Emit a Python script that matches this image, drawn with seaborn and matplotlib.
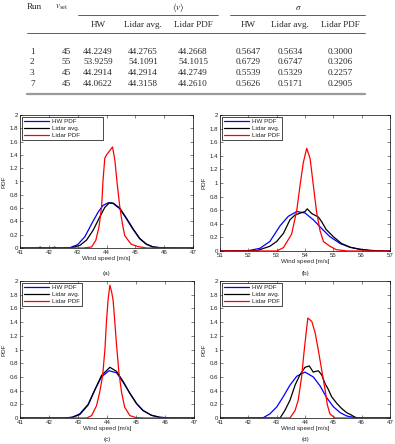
import pandas as pd
import matplotlib
matplotlib.use("Agg")
import matplotlib.pyplot as plt
import seaborn as sns
from matplotlib.lines import Line2D
from matplotlib.ticker import FuncFormatter, MultipleLocator

# table values
runs = ["1", "2", "3", "7"]
v_set = ["45", "55", "45", "45"]
mean_hw = ["44.2249", "53.9259", "44.2914", "44.0622"]
mean_avg = ["44.2765", "54.1091", "44.2914", "44.3158"]
mean_pdf = ["44.2668", "54.1015", "44.2749", "44.2610"]
sig_hw = ["0.5647", "0.6729", "0.5539", "0.5626"]
sig_avg = ["0.5634", "0.6747", "0.5329", "0.5171"]
sig_pdf = ["0.3000", "0.3206", "0.2257", "0.2905"]
sub_heads = ["HW", "Lidar avg.", "Lidar PDF", "HW", "Lidar avg.", "Lidar PDF"]

# panel (a)
a_hw_x = [41.0, 41.6, 41.7, 41.8, 42.1, 42.2, 42.3, 42.73, 43.0, 43.25, 43.48, 43.71, 43.88, 44.06, 44.23, 44.46, 44.69, 44.92, 45.15, 45.38, 45.61, 45.9, 46.5, 47.0]
a_hw_y = [0, 0, 0.01, 0, 0, 0.01, 0, 0.005, 0.05, 0.17, 0.36, 0.54, 0.64, 0.68, 0.67, 0.59, 0.44, 0.28, 0.14, 0.056, 0.015, 0.003, 0, 0]
a_avg_x = [41.0, 41.6, 41.7, 41.8, 42.1, 42.2, 42.3, 42.8, 43.08, 43.31, 43.54, 43.77, 43.94, 44.1, 44.23, 44.46, 44.69, 44.92, 45.15, 45.38, 45.61, 45.9, 46.5, 47.0]
a_avg_y = [0, 0, 0.01, 0, 0, 0.01, 0, 0.005, 0.04, 0.12, 0.27, 0.47, 0.61, 0.68, 0.675, 0.6, 0.45, 0.29, 0.145, 0.06, 0.017, 0.003, 0, 0]
a_pdf_x = [41.0, 43.2, 43.48, 43.63, 43.74, 43.83, 43.88, 43.94, 44.0, 44.21, 44.29, 44.37, 44.46, 44.55, 44.63, 44.75, 44.86, 45.1, 45.4, 47.0]
a_pdf_y = [0, 0, 0.015, 0.116, 0.32, 0.62, 1.02, 1.35, 1.40, 1.52, 1.32, 0.97, 0.62, 0.37, 0.19, 0.116, 0.056, 0.02, 0, 0]

# panel (b)
b_hw_x = [51.0, 52.0, 52.41, 52.76, 53.12, 53.41, 53.71, 54.0, 54.29, 54.59, 54.88, 55.24, 55.59, 55.94, 56.3, 56.7, 57.0]
b_hw_y = [0, 0.005, 0.04, 0.14, 0.37, 0.51, 0.58, 0.56, 0.46, 0.33, 0.21, 0.11, 0.055, 0.025, 0.008, 0.002, 0]
b_avg_x = [51.0, 52.3, 52.76, 53.0, 53.24, 53.47, 53.65, 53.85, 54.0, 54.08, 54.24, 54.47, 54.59, 54.74, 55.0, 55.29, 55.59, 55.94, 56.3, 56.7, 57.0]
b_avg_y = [0, 0.005, 0.07, 0.14, 0.26, 0.46, 0.53, 0.56, 0.58, 0.62, 0.55, 0.50, 0.43, 0.32, 0.21, 0.11, 0.055, 0.025, 0.008, 0.002, 0]
b_pdf_x = [51.0, 53.0, 53.24, 53.53, 53.71, 53.82, 53.94, 54.06, 54.18, 54.29, 54.41, 54.53, 54.65, 54.88, 55.1, 55.5, 57.0]
b_pdf_y = [0, 0, 0.05, 0.25, 0.6, 0.95, 1.3, 1.51, 1.36, 0.98, 0.57, 0.3, 0.14, 0.07, 0.02, 0, 0]

# panel (c)
c_hw_x = [41.0, 42.5, 42.8, 43.06, 43.35, 43.58, 43.81, 44.07, 44.33, 44.56, 44.79, 45.02, 45.24, 45.53, 45.82, 46.2, 47.0]
c_hw_y = [0, 0, 0.01, 0.06, 0.2, 0.41, 0.6, 0.69, 0.66, 0.52, 0.36, 0.21, 0.11, 0.04, 0.01, 0, 0]
c_avg_x = [41.0, 42.5, 42.8, 43.06, 43.35, 43.58, 43.81, 44.1, 44.33, 44.56, 44.79, 45.02, 45.24, 45.53, 45.82, 46.2, 47.0]
c_avg_y = [0, 0, 0.01, 0.05, 0.19, 0.41, 0.62, 0.74, 0.68, 0.53, 0.36, 0.21, 0.11, 0.04, 0.01, 0, 0]
c_pdf_x = [41.0, 43.3, 43.47, 43.64, 43.75, 43.85, 43.93, 43.98, 44.04, 44.1, 44.16, 44.21, 44.27, 44.33, 44.41, 44.5, 44.61, 44.79, 45.0, 45.3, 47.0]
c_pdf_y = [0, 0, 0.035, 0.18, 0.38, 0.62, 1.01, 1.4, 1.74, 1.94, 1.84, 1.72, 1.40, 1.06, 0.67, 0.38, 0.157, 0.035, 0.005, 0, 0]

# panel (d)
d_hw_x = [41.0, 42.2, 42.53, 42.76, 43.0, 43.23, 43.47, 43.71, 44.0, 44.29, 44.53, 44.76, 45.0, 45.24, 45.47, 45.7, 46.0, 47.0]
d_hw_y = [0, 0, 0.005, 0.06, 0.16, 0.31, 0.48, 0.61, 0.67, 0.60, 0.47, 0.30, 0.165, 0.078, 0.03, 0.01, 0, 0]
d_avg_x = [41.0, 43.12, 43.29, 43.47, 43.65, 43.82, 44.0, 44.15, 44.29, 44.47, 44.59, 44.71, 44.82, 44.94, 45.12, 45.29, 45.47, 45.59, 45.71, 45.82, 47.0]
d_avg_y = [0, 0, 0.11, 0.26, 0.48, 0.63, 0.74, 0.76, 0.67, 0.69, 0.63, 0.50, 0.42, 0.31, 0.215, 0.14, 0.078, 0.054, 0.025, 0, 0]
d_pdf_x = [41.0, 43.47, 43.65, 43.76, 43.88, 43.96, 44.04, 44.1, 44.24, 44.36, 44.47, 44.59, 44.71, 44.79, 44.88, 45.06, 47.0]
d_pdf_y = [0, 0, 0.11, 0.26, 0.6, 0.94, 1.24, 1.46, 1.41, 1.24, 0.99, 0.70, 0.41, 0.19, 0.06, 0, 0]

labels = ["HW PDF", "Lidar avg.", "Lidar PDF"]
colors = ["#0000ff", "#000000", "#ff0000"]

sns.set_style("white")
plt.rcParams["font.family"] = ["Liberation Sans", "DejaVu Sans"]
plt.rcParams["mathtext.fontset"] = "stix"

W, H = 395, 444
fig = plt.figure(figsize=(W / 100, H / 100), dpi=100)


def fx(x):
    return x / W


def fy(y):
    return 1 - y / H


# ---- table ----
serif = ["Liberation Serif", "DejaVu Serif"]
ts = 6.6
fig.text(fx(27), fy(7), "Run", ha="left", va="center", fontsize=ts, family=serif)
fig.text(fx(62), fy(7), r"$v_{\rm set}$", ha="center", va="center", fontsize=ts)
fig.text(fx(178), fy(7), r"$\langle v\rangle$", ha="center", va="center", fontsize=ts)
fig.text(fx(298), fy(7), r"$\sigma$", ha="center", va="center", fontsize=ts)
col_x = [98, 143, 193, 248, 290, 340]
for cx, s in zip(col_x, sub_heads):
    fig.text(fx(cx), fy(25), s, ha="center", va="center", fontsize=ts, family=serif)
row_y = [52, 62.5, 73.3, 84.2]
for i, ry in enumerate(row_y):
    fig.text(fx(30), fy(ry), runs[i], ha="left", va="center", fontsize=ts, family=serif)
    fig.text(fx(66.5), fy(ry), v_set[i], ha="center", va="center", fontsize=ts, family=serif)
    vals = [mean_hw[i], mean_avg[i], mean_pdf[i], sig_hw[i], sig_avg[i], sig_pdf[i]]
    for cx, s in zip(col_x, vals):
        fig.text(fx(cx), fy(ry), s, ha="center", va="center", fontsize=ts, family=serif)

for x0, x1, y, lw, c in [(78, 218, 15, 0.6, "#444444"), (230, 365, 15, 0.6, "#444444"),
                         (27, 365, 33, 0.6, "#444444"), (27, 365, 94.5, 1.6, "#999999")]:
    fig.add_artist(Line2D([fx(x0), fx(x1)], [fy(y), fy(y)], lw=lw, color=c))


# ---- panels ----
def panel(box, curves, xlim, tag, cap_y, pad=""):
    x0, y0, x1, y1 = box
    ax = fig.add_axes([fx(x0), fy(y1), (x1 - x0) / W, (y1 - y0) / H])
    for (x, y), lab, col in zip(curves, labels, colors):
        df = pd.DataFrame({"x": x, "y": y})
        sns.lineplot(data=df, x="x", y="y", ax=ax, color=col, lw=0.9, sort=False,
                     estimator=None, label=lab + (pad if lab == "Lidar avg." else ""))
    ax.set_xlim(xlim)
    ax.set_ylim(0, 2)
    ax.xaxis.set_major_locator(MultipleLocator(1))
    ax.yaxis.set_major_locator(MultipleLocator(0.2))
    ax.yaxis.set_major_formatter(FuncFormatter(lambda v, p: f"{v:g}"))
    ax.tick_params(direction="in", length=2, width=0.4, labelsize=4.4, top=True,
                   right=True, bottom=True, left=True, pad=1.5)
    for sp in ax.spines.values():
        sp.set_linewidth(0.5)
        sp.set_color("black")
    ax.set_xlabel("Wind speed [m/s]", fontsize=4.5, labelpad=1)
    ax.set_ylabel("PDF", fontsize=4.5, labelpad=2)
    leg = ax.legend(loc="upper left", frameon=True, fancybox=False, edgecolor="black",
                    framealpha=1, fontsize=4.5, handlelength=4, borderpad=0.3,
                    labelspacing=0.25, handletextpad=0.6, borderaxespad=0.3)
    leg.get_frame().set_linewidth(0.5)
    fig.text(fx((x0 + x1) / 2), fy(cap_y), tag, ha="center", va="center", fontsize=4.5)
    return ax


panel((20, 115, 193, 248), [(a_hw_x, a_hw_y), (a_avg_x, a_avg_y), (a_pdf_x, a_pdf_y)],
      (41, 47), "(a)", 273, pad=" " * 12)
panel((220, 115, 390, 251), [(b_hw_x, b_hw_y), (b_avg_x, b_avg_y), (b_pdf_x, b_pdf_y)],
      (51, 57), "(b)", 273)
panel((20, 281, 194, 418), [(c_hw_x, c_hw_y), (c_avg_x, c_avg_y), (c_pdf_x, c_pdf_y)],
      (41, 47), "(c)", 439)
panel((220, 281, 390, 418), [(d_hw_x, d_hw_y), (d_avg_x, d_avg_y), (d_pdf_x, d_pdf_y)],
      (41, 47), "(d)", 439)

fig.savefig("out.png", dpi=100)
